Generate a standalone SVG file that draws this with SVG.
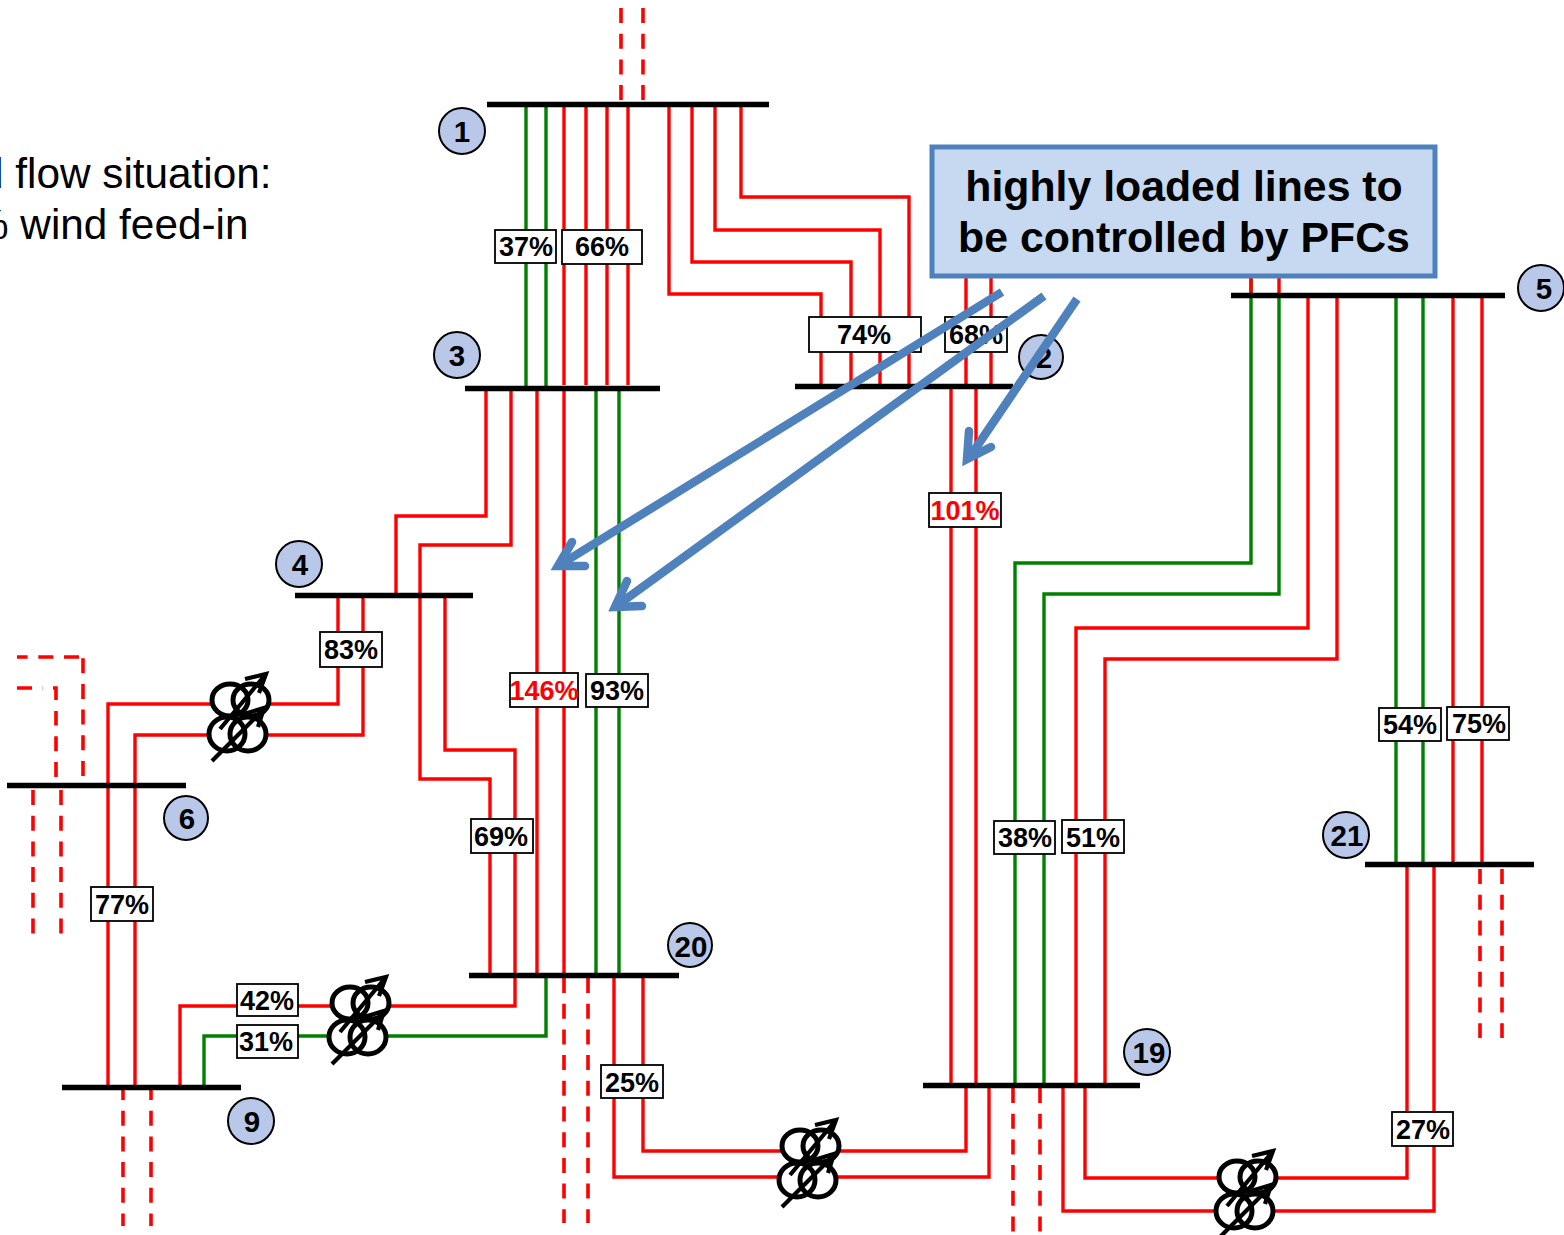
<svg xmlns="http://www.w3.org/2000/svg" width="1564" height="1235" viewBox="0 0 1564 1235">
<style>
text{font-family:"Liberation Sans",Arial,sans-serif}
.r{fill:none;stroke:#f00;stroke-width:3.4}
.g{fill:none;stroke:#008000;stroke-width:3.4}
.d{fill:none;stroke:#f00;stroke-width:3.6;stroke-dasharray:15 10.7}
.bus{stroke:#000;stroke-width:5.4}
.lb rect{fill:#fff;stroke:#000;stroke-width:1.8}
.lb text{font-size:27px;font-weight:bold;text-anchor:middle;fill:#000}
.lb .hot{fill:#f00}
.nd circle{fill:#b9c7e9;stroke:#000;stroke-width:2}
.nd text{font-size:29.5px;font-weight:bold;text-anchor:middle;fill:#000}
.pl{font-size:42.3px;fill:#000}
.call rect{fill:#c6d9f1;stroke:#4f81bd;stroke-width:5}
.call text{font-size:42.8px;font-weight:bold;text-anchor:middle;fill:#000}
.arr{fill:none;stroke:#4f81bd;stroke-width:8.5;stroke-linecap:round;stroke-linejoin:miter;stroke-miterlimit:10}
.arrs{fill:none;stroke:#4f81bd;stroke-width:8.5}
.tw{fill:#fff;stroke:none}
.to{fill:none;stroke:#000;stroke-width:5}
.ta{fill:none;stroke:#000;stroke-width:4.2}
</style>
<defs>
<g id="tr">
<ellipse class="tw" cx="20" cy="27" rx="18" ry="16"/><ellipse class="tw" cx="41" cy="27" rx="18" ry="16"/>
<ellipse class="tw" cx="17" cy="61" rx="18" ry="17"/><ellipse class="tw" cx="38" cy="61" rx="18" ry="17"/>
<ellipse class="to" cx="20" cy="27" rx="18" ry="16"/><ellipse class="to" cx="41" cy="27" rx="18" ry="16"/>
<ellipse class="to" cx="17" cy="61" rx="18" ry="17"/><ellipse class="to" cx="38" cy="61" rx="18" ry="17"/>
<path class="ta" d="M10 56 L56 1 M35 6 L56 1 L49 20"/>
<path class="ta" d="M2 88 L54 36 M34 41 L54 35 L48 54"/>
</g>
</defs>
<g id="connectors">
<path class="d" d="M621 8V100M643 8V100"/>
<path class="g" d="M526 104V387M546 104V387"/>
<path class="r" d="M564 104V385M586 104V385M607 104V385M628 104V385"/>
<path class="r" d="M669 104V294H821V385M692 104V262H851V385M715 104V230H880V385M741 104V197H909V385"/>
<path class="r" d="M966 275V386M991 275V386M951 386V1085M976 386V1085"/>
<path class="r" d="M486 388V516H396V595M511 388V545H420V779H490V975M445 595V750H515V1006H180V1087"/>
<path class="r" d="M537 388V975M564 388V975"/>
<path class="g" d="M596 388V975M619 388V975"/>
<path class="g" d="M546 975V1036H204V1087"/>
<path class="r" d="M338 595V704H108V1087M363 595V735H135V1087"/>
<path class="d" d="M33 790V935M61 790V935"/>
<path class="d" d="M83 776V657M79 657H17M56 777V711M56 700V688H42M32 688H17"/>
<path class="d" d="M123 1085V1226M151 1085V1226"/>
<path class="d" d="M564 978V1223M588 978V1223"/>
<path class="r" d="M614 975V1177H989V1085M643 975V1151H966V1085"/>
<path class="d" d="M1013 1088V1232M1040 1088V1232"/>
<path class="g" d="M1015 1085V563H1251V276M1044 1085V594H1279V295"/>
<path class="r" d="M1076 1085V628H1308V295M1105 1085V659H1337V295"/>
<path class="r" d="M1251 276V295M1279 276V295"/>
<path class="r" d="M1063 1085V1211H1434V865M1085 1085V1178H1407V865"/>
<path class="g" d="M1396 295V863M1423 295V863"/>
<path class="r" d="M1453 295V863M1482 295V863"/>
<path class="d" d="M1480 869V1038M1502 869V1038"/>
</g>
<g id="buses">
<line class="bus" x1="487" y1="104.5" x2="769" y2="104.5"/>
<line class="bus" x1="795" y1="386.5" x2="1013" y2="386.5"/>
<line class="bus" x1="465" y1="388.5" x2="660" y2="388.5"/>
<line class="bus" x1="295" y1="595.5" x2="473" y2="595.5"/>
<line class="bus" x1="7" y1="785.5" x2="186" y2="785.5"/>
<line class="bus" x1="62" y1="1087.5" x2="241" y2="1087.5"/>
<line class="bus" x1="469" y1="975.5" x2="679" y2="975.5"/>
<line class="bus" x1="923" y1="1085.5" x2="1140" y2="1085.5"/>
<line class="bus" x1="1231" y1="295.5" x2="1505" y2="295.5"/>
<line class="bus" x1="1365" y1="864.5" x2="1534" y2="864.5"/>
</g>
<g id="transformers">
<use href="#tr" x="210" y="673"/>
<use href="#tr" x="330" y="976"/>
<use href="#tr" x="780" y="1119"/>
<use href="#tr" x="1217" y="1150"/>
</g>
<g id="labels" class="lb">
<g><rect x="495" y="230" width="61" height="33"/><text x="526" y="255.5">37%</text></g>
<g><rect x="562" y="230" width="80" height="34"/><text x="602" y="255.5">66%</text></g>
<g><rect x="809" y="317" width="112" height="35"/><text x="864" y="343.5">74%</text></g>
<g><rect x="945" y="317" width="62" height="35"/><text x="976" y="343.5">68%</text></g>
<g><rect x="929" y="493" width="72" height="34"/><text x="965" y="519.5" class="hot">101%</text></g>
<g><rect x="320" y="632" width="62" height="35"/><text x="351" y="658.5">83%</text></g>
<g><rect x="510" y="673" width="68" height="34"/><text x="544" y="699.5" class="hot">146%</text></g>
<g><rect x="586" y="674" width="62" height="33"/><text x="617" y="699.5">93%</text></g>
<g><rect x="1379" y="708" width="62" height="33"/><text x="1410" y="733.5">54%</text></g>
<g><rect x="1447" y="707" width="62" height="33"/><text x="1479" y="732.5">75%</text></g>
<g><rect x="471" y="819" width="62" height="34"/><text x="501" y="845.5">69%</text></g>
<g><rect x="994" y="821" width="61" height="33"/><text x="1025" y="846.5">38%</text></g>
<g><rect x="1062" y="820" width="62" height="33"/><text x="1093" y="846.5">51%</text></g>
<g><rect x="91" y="887" width="62" height="34"/><text x="122" y="913.5">77%</text></g>
<g><rect x="237" y="984" width="61" height="32"/><text x="267" y="1009.5">42%</text></g>
<g><rect x="237" y="1025" width="61" height="33"/><text x="266" y="1050.5">31%</text></g>
<g><rect x="601" y="1065" width="62" height="33"/><text x="632" y="1091.5">25%</text></g>
<g><rect x="1392" y="1112" width="61" height="34"/><text x="1423" y="1138.5">27%</text></g>
</g>
<g id="node1" class="nd"><circle cx="462" cy="131" r="23"/><text x="462" y="142">1</text></g>
<g id="node2" class="nd"><circle cx="1041" cy="357" r="22"/><text x="1044" y="368">2</text></g>
<g id="node3" class="nd"><circle cx="457" cy="355" r="23"/><text x="457" y="366">3</text></g>
<g id="node4" class="nd"><circle cx="299" cy="564" r="23"/><text x="300" y="575">4</text></g>
<g id="node5" class="nd"><circle cx="1541" cy="288" r="23"/><text x="1544" y="299">5</text></g>
<g id="node6" class="nd"><circle cx="186" cy="818" r="22"/><text x="187" y="829">6</text></g>
<g id="node9" class="nd"><circle cx="251" cy="1121" r="23"/><text x="252" y="1132">9</text></g>
<g id="node19" class="nd"><circle cx="1147" cy="1052" r="23"/><text x="1149" y="1063">19</text></g>
<g id="node20" class="nd"><circle cx="690" cy="945" r="22"/><text x="691" y="957">20</text></g>
<g id="node21" class="nd"><circle cx="1346" cy="835" r="23"/><text x="1347" y="846">21</text></g>
<g id="plain">
<text class="pl" x="-20" y="188">d flow situation:</text>
<text class="pl" x="-29" y="239">% wind feed-in</text>
</g>
<g id="callout" class="call">
<rect x="932" y="147" width="503" height="129"/>
<text x="1184" y="201">highly loaded lines to</text>
<text x="1184" y="252">be controlled by PFCs</text>
</g>
<g id="arrows">
<path class="arrs" d="M1002 292L558 566M1044 296L615 607M1077 299L969 458"/>
<path class="arr" d="M572 542L558 566L585 566M627 581L615 607L642 606M969 431L967 459L991 447"/>
</g>
</svg>
